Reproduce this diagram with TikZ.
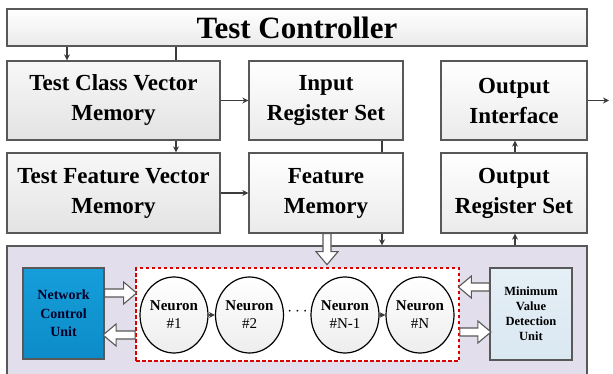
\documentclass[tikz,border=0pt]{standalone}
\usepackage{fontspec}
\setmainfont{Liberation Serif}
\usetikzlibrary{arrows.meta,shapes.geometric}

\definecolor{edgegray}{RGB}{88,88,88}
\definecolor{linegray}{RGB}{60,60,60}
\definecolor{lavender}{RGB}{226,222,236}
\definecolor{netblue}{RGB}{22,158,218}
\definecolor{netbluedark}{RGB}{12,140,200}
\definecolor{paleblue}{RGB}{218,232,242}

\tikzset{
  block/.style={draw=edgegray, line width=1.3pt, rectangle, inner sep=0pt,
    top color=white, bottom color=gray!16, align=center,
    font=\fontsize{23}{30}\selectfont\bfseries},
  darkblock/.style={block, top color=gray!6, bottom color=gray!22},
  conn/.style={draw=linegray, line width=1.3pt},
  tip/.style={-{Stealth[length=6pt,width=6pt]}},
  neuron/.style={ellipse, draw=black, line width=1.2pt, inner sep=0pt,
    minimum width=60pt, minimum height=76pt, top color=white,
    bottom color=gray!14, align=center, font=\fontsize{15}{18}\selectfont},
  hollow/.style={draw=edgegray, line width=1.1pt, fill=white, line join=miter},
  pics/hollowarrow/.style={code={
    \draw[hollow] (0,-4) -- (#1-13,-4) -- (#1-13,-11) -- (#1,0)
      -- (#1-13,11) -- (#1-13,4) -- (0,4) -- cycle;}}
}

\begin{document}
\begin{tikzpicture}[x=1pt,y=-1pt]
\useasboundingbox (0,0) rectangle (613,374);

% controller and memory / register blocks
\node[block, minimum width=580pt, minimum height=37pt,
      font=\fontsize{31}{36}\selectfont\bfseries] (ctrl) at (297,27.5) {Test Controller};
\node[darkblock, minimum width=213pt, minimum height=79pt] (tcvm) at (113.5,100.5) {Test Class Vector\\Memory};
\node[block, minimum width=154pt, minimum height=79pt] (irs) at (326,100.5) {Input\\Register Set};
\node[block, minimum width=146pt, minimum height=79pt] (oi) at (514,100.5) {Output\\Interface};
\node[darkblock, minimum width=213pt, minimum height=80pt] (tfvm) at (113.5,193) {Test Feature Vector\\Memory};
\node[block, minimum width=154pt, minimum height=80pt] (fm) at (326,193) {Feature\\Memory};
\node[block, minimum width=146pt, minimum height=80pt] (ors) at (514,193) {Output\\Register Set};

% network core
\node[draw=edgegray, line width=1.3pt, fill=lavender, minimum width=580pt,
      minimum height=132pt, inner sep=0pt] (core) at (297,312) {};
\node[draw=edgegray, line width=1.2pt, top color=netblue, bottom color=netbluedark,
      minimum width=81pt, minimum height=91pt, inner sep=0pt, align=center,
      text=black!85!blue, font=\fontsize{14}{18.5}\selectfont\bfseries]
      (ncu) at (63.5,313.5) {Network\\Control\\Unit};
\node[draw=red!85!black, line width=1.8pt, dash pattern=on 3.5pt off 2.5pt,
      fill=white, minimum width=323pt, minimum height=93pt, inner sep=0pt]
      (array) at (297.5,314.5) {};
\node[draw=edgegray, line width=1.2pt, top color=paleblue!70!white, bottom color=paleblue,
      minimum width=82pt, minimum height=92pt, inner sep=0pt, align=center,
      font=\fontsize{12.5}{15}\selectfont\bfseries]
      (mvdu) at (531,314) {Minimum\\Value\\Detection\\Unit};

% neurons
\node[neuron] (n1) at (174,315) {\textbf{Neuron}\\\#1};
\node[neuron] (n2) at (249.5,315) {\textbf{Neuron}\\\#2};
\node[neuron] (n3) at (345,315) {\textbf{Neuron}\\\#N-1};
\node[neuron] (n4) at (420,315) {\textbf{Neuron}\\\#N};
\node[font=\fontsize{16}{16}\selectfont] (dots) at (297.5,312) {$\cdots$};

% reference coordinates for vertical and horizontal runs
\coordinate (xa) at (67,0);
\coordinate (xb) at (176,0);
\coordinate (xc) at (382,0);
\coordinate (xd) at (515,0);
\coordinate (xh) at (327,0);
\coordinate (yA) at (0,293);
\coordinate (yB) at (0,335);
\coordinate (yC) at (0,287);
\coordinate (yD) at (0,332);
\coordinate (outend) at (609,100.5);

% connectors
\draw[conn,tip] (ctrl.south -| xa) -- (tcvm.north -| xa);
\draw[conn] (ctrl.south -| xb) -- (tcvm.north -| xb);
\draw[conn,tip] (tcvm.south -| xb) -- (tfvm.north -| xb);
\draw[conn,tip] (tcvm.east) -- (irs.west);
\draw[conn,tip] (tfvm.east) -- (fm.west);
\draw[conn] (irs.south -| xc) -- (fm.north -| xc);
\draw[conn,tip] (fm.south -| xc) -- (core.north -| xc);
\draw[conn,tip] (ors.north -| xd) -- (oi.south -| xd);
\draw[conn,tip] (core.north -| xd) -- (ors.south -| xd);
\draw[conn,tip] (oi.east) -- (outend);
\draw[conn,tip] (n1.east) -- (n2.west);
\draw[conn,tip] (n3.east) -- (n4.west);

% wide data paths
\pic[rotate=-90] at (fm.south -| xh) {hollowarrow=31};
\pic at (ncu.east |- yA) {hollowarrow=32};
\pic[rotate=180] at (array.west |- yB) {hollowarrow=32};
\pic[rotate=180] at (mvdu.west |- yC) {hollowarrow=31};
\pic at (array.east |- yD) {hollowarrow=31};
\end{tikzpicture}
\end{document}
